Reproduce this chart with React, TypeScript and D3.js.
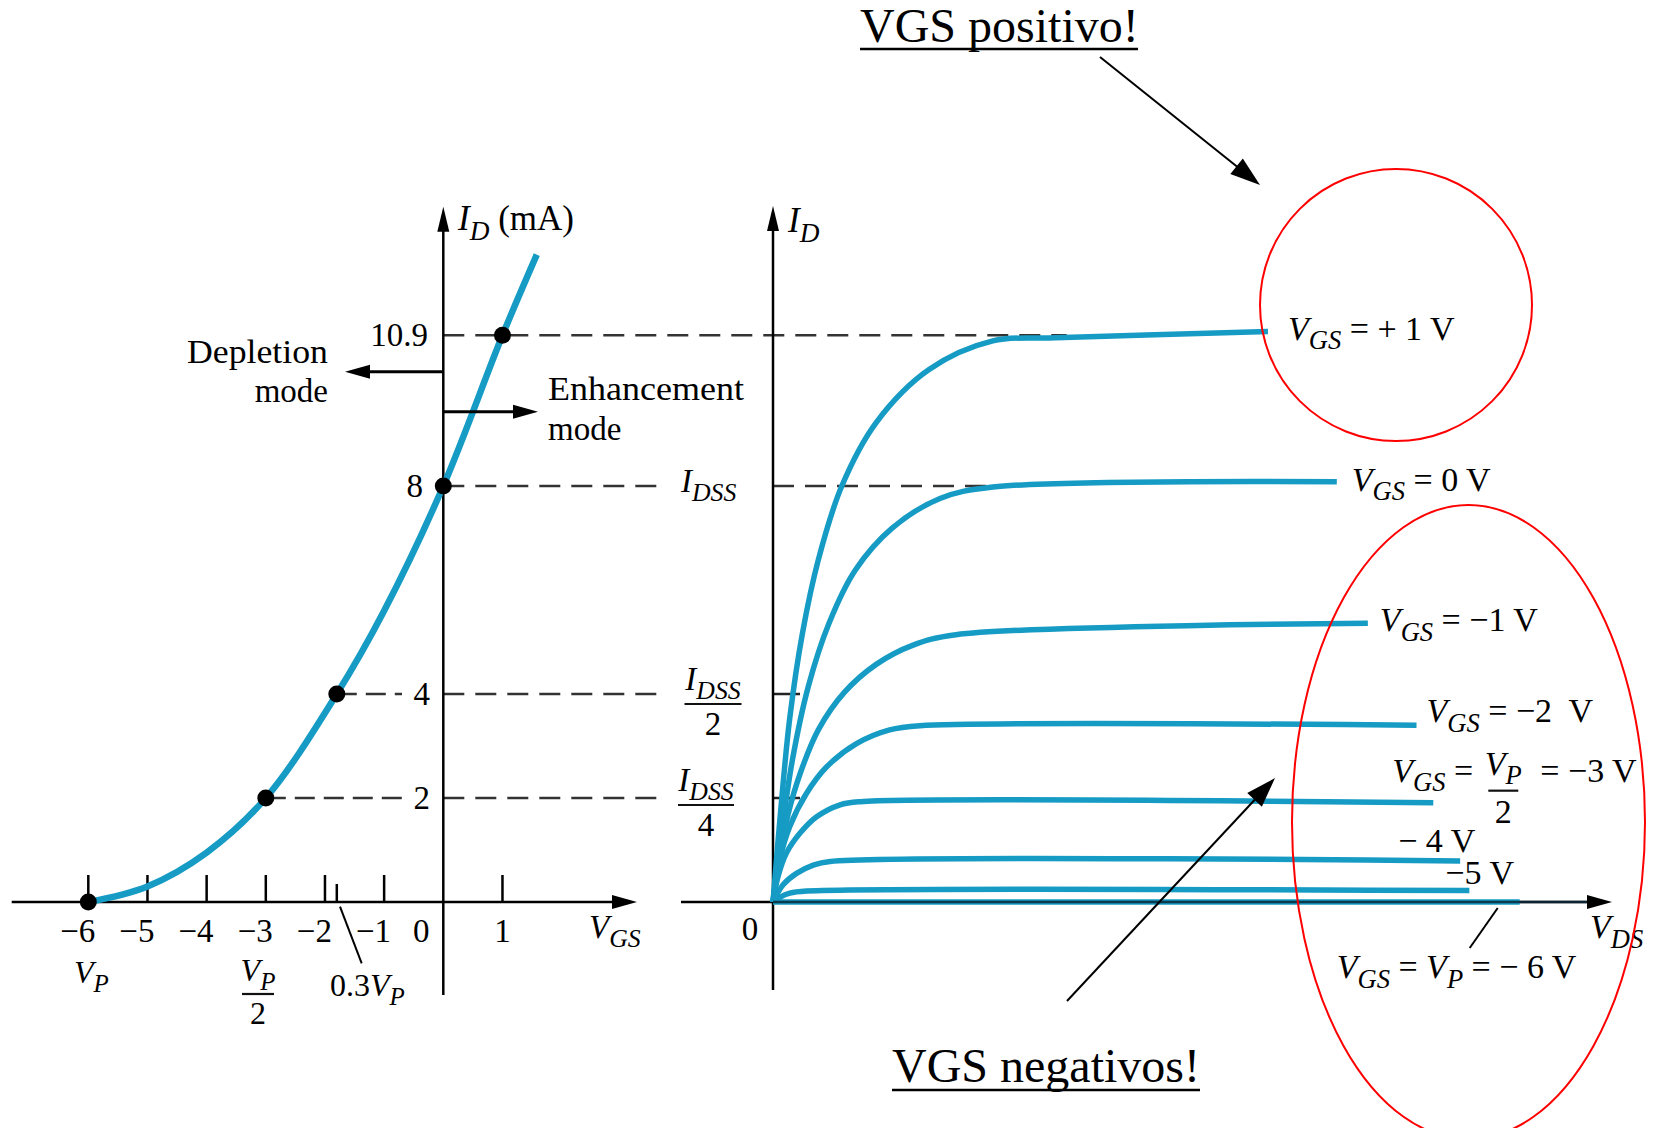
import React from 'react';
import * as d3 from 'd3';

const W = 1656;
const H = 1128;
const BLUE = '#169bc4';
const FONT = '"Liberation Serif", "Times New Roman", serif';

// transfer curve (left)
const transferVgs = [-6, -5, -4, -3, -1.8, -1, 0, 1, 1.58];
const transferId = [0, 0.3, 0.95, 2, 4, 5.6, 8, 10.9, 12.45];
const markedVgs = [-6, -3, -1.8, 0, 1];
const markedId = [0, 2, 4, 8, 10.9];
const vgsTicks = [-6, -5, -4, -3, -2, -1, 0, 1];
const vgsTickLabels = ['−6', '−5', '−4', '−3', '−2', '−1', '0', '1'];
const idLevels = [10.9, 8, 4, 2];
const idLevelLabels = ['10.9', '8', '4', '2'];

// drain curves (right), one pair of arrays per VGS
const vdsP1 = [0, 0.1, 0.2, 0.35, 0.54, 0.82, 1.23, 1.86, 2.62, 3.37, 5.9];
const idP1 = [0, 1.91, 3.54, 5.16, 6.58, 8.0, 9.22, 10.24, 10.79, 10.85, 10.97];
const vds0 = [0, 0.1, 0.23, 0.42, 0.67, 0.98, 1.42, 1.99, 2.62, 6.72];
const id0 = [0, 1.3, 2.72, 4.14, 5.37, 6.38, 7.19, 7.76, 7.98, 8.08];
const vdsM1 = [0, 0.08, 0.18, 0.33, 0.54, 0.85, 1.23, 1.67, 2.18, 7.09];
const idM1 = [0, 0.88, 1.69, 2.5, 3.31, 4.03, 4.57, 4.94, 5.14, 5.36];
const vdsM2 = [0, 0.08, 0.2, 0.4, 0.64, 1.0, 1.39, 1.75, 7.67];
const idM2 = [0, 0.81, 1.45, 2.09, 2.6, 3.05, 3.31, 3.39, 3.4];
const vdsM3 = [0, 0.06, 0.16, 0.32, 0.52, 0.8, 1.04, 7.87];
const idM3 = [0, 0.49, 0.94, 1.32, 1.64, 1.87, 1.93, 1.91];
const vdsM4 = [0, 0.12, 0.28, 0.48, 0.68, 8.19];
const idM4 = [0, 0.33, 0.55, 0.71, 0.78, 0.79];
const vdsM5 = [0, 0.08, 0.2, 0.4, 8.3];
const idM5 = [0, 0.09, 0.17, 0.21, 0.22];
const vdsM6 = [0, 8.9];
const idM6 = [0, 0];

const drainCurves = [
  [vdsP1, idP1], [vds0, id0], [vdsM1, idM1], [vdsM2, idM2],
  [vdsM3, idM3], [vdsM4, idM4], [vdsM5, idM5], [vdsM6, idM6],
];

type Seg = { t: string; i?: boolean; sub?: boolean };

function Label({ x, y, segs, size = 32, anchor = 'start' }: { x: number; y: number; segs: Seg[]; size?: number; anchor?: string }) {
  const shift = size * 0.28;
  let inSub = false;
  return (
    <text x={x} y={y} fontSize={size} fontFamily={FONT} textAnchor={anchor} style={{ whiteSpace: 'pre' }}>
      {segs.map((s, k) => {
        let dy = 0;
        if (s.sub && !inSub) { dy = shift; inSub = true; }
        else if (!s.sub && inSub) { dy = -shift; inSub = false; }
        return (
          <tspan key={k} dy={dy || undefined} fontStyle={s.i ? 'italic' : undefined} fontSize={s.sub ? size * 0.78 : undefined}>
            {s.t}
          </tspan>
        );
      })}
    </text>
  );
}

function Frac({ cx, y, num, den, w, size = 32, up = 14 }: { cx: number; y: number; num: Seg[]; den: string; w: number; size?: number; up?: number }) {
  return (
    <g>
      <Label x={cx} y={y - up} segs={num} size={size} anchor="middle" />
      <line x1={cx - w / 2} x2={cx + w / 2} y1={y} y2={y} stroke="#111" strokeWidth={2.2} />
      <text x={cx} y={y + size * 0.95} fontSize={size} fontFamily={FONT} textAnchor="middle">{den}</text>
    </g>
  );
}

function arrowHead(x1: number, y1: number, x2: number, y2: number, len: number, half: number) {
  const a = Math.atan2(y2 - y1, x2 - x1);
  const bx = x2 - len * Math.cos(a);
  const by = y2 - len * Math.sin(a);
  const px = -Math.sin(a) * half;
  const py = Math.cos(a) * half;
  return `M${x2},${y2}L${bx + px},${by + py}L${bx - px},${by - py}Z`;
}

function Arrow({ x1, y1, x2, y2, w = 2.5, len = 25, half = 6.5 }: any) {
  const a = Math.atan2(y2 - y1, x2 - x1);
  return (
    <g>
      <line x1={x1} y1={y1} x2={x2 - (len - 2) * Math.cos(a)} y2={y2 - (len - 2) * Math.sin(a)} stroke="#000" strokeWidth={w} />
      <path d={arrowHead(x1, y1, x2, y2, len, half)} fill="#000" />
    </g>
  );
}

const VGS: Seg[] = [{ t: 'V', i: true }, { t: 'GS', i: true, sub: true }];
const VP: Seg[] = [{ t: 'V', i: true }, { t: 'P', i: true, sub: true }];
const IDSS: Seg[] = [{ t: 'I', i: true }, { t: 'DSS', i: true, sub: true }];

export default function App() {
  const xL = d3.scaleLinear().domain([-6, 0]).range([88.3, 443.3]);
  const y = d3.scaleLinear().domain([0, 8]).range([902, 486]);
  const xR = d3.scaleLinear().domain([0, 10]).range([773, 1612]);
  const y0 = y(0);

  const transferPts = transferVgs.map((v, k) => [v, transferId[k]] as [number, number]);
  const transferPath = d3.line<[number, number]>()
    .x(d => xL(d[0])).y(d => y(d[1])).curve(d3.curveCatmullRom.alpha(0.5))(transferPts) || '';

  const drainLine = d3.line<[number, number]>()
    .x(d => xR(d[0])).y(d => y(d[1])).curve(d3.curveCatmullRom.alpha(0.5));

  const ends = drainCurves.map(([vx, iy]) => [xR(vx[vx.length - 1]), y(iy[iy.length - 1])]);

  const dash = '21,11';
  const dashStroke = '#333';

  return (
    <svg width={W} height={H} style={{ position: 'absolute', left: 0, top: 0, background: '#fff' }}>
      {/* dashed guide lines */}
      <line x1={xL(0)} x2={xR(3.5)} y1={y(10.9)} y2={y(10.9)} stroke={dashStroke} strokeWidth={2.5} strokeDasharray={dash} />
      <line x1={xL(0)} x2={662} y1={y(8)} y2={y(8)} stroke={dashStroke} strokeWidth={2.5} strokeDasharray={dash} />
      <line x1={xR(0)} x2={xR(2.7)} y1={y(8)} y2={y(8)} stroke={dashStroke} strokeWidth={2.5} strokeDasharray={dash} />
      {[4, 2].map((v, k) => (
        <g key={v}>
          <line x1={xL(markedVgs[2 - k])} x2={402} y1={y(v)} y2={y(v)} stroke={dashStroke} strokeWidth={2.5} strokeDasharray="20,9" />
          <line x1={xL(0)} x2={662} y1={y(v)} y2={y(v)} stroke={dashStroke} strokeWidth={2.5} strokeDasharray={dash} />
          <line x1={xR(0)} x2={xR(0) + 27} y1={y(v)} y2={y(v)} stroke="#222" strokeWidth={2.5} />
        </g>
      ))}

      {/* left: transfer characteristic */}
      <line x1={11.7} x2={620} y1={y0} y2={y0} stroke="#000" strokeWidth={2.5} />
      <path d={arrowHead(11.7, y0, 637, y0, 25, 7)} fill="#000" />
      <line x1={xL(0)} x2={xL(0)} y1={995} y2={225} stroke="#000" strokeWidth={2.5} />
      <path d={arrowHead(xL(0), 995, xL(0), 206.7, 25, 6)} fill="#000" />

      {vgsTicks.filter(v => v !== 0).map(v => (
        <line key={v} x1={xL(v)} x2={xL(v)} y1={y0} y2={y0 - 27} stroke="#000" strokeWidth={2.5} />
      ))}
      <line x1={xL(-1.8)} x2={xL(-1.8)} y1={y0} y2={y0 - 18} stroke="#000" strokeWidth={2.5} />

      {vgsTicks.map((v, k) => (
        <text key={v} x={v < 0 ? xL(v) + 7 : v === 0 ? xL(v) - 22 : xL(v)} y={942}
          fontSize={33} fontFamily={FONT} textAnchor={v < 0 ? 'end' : 'middle'}>{vgsTickLabels[k]}</text>
      ))}

      {idLevels.map((v, k) => (
        <text key={v} x={v >= 8 ? (v > 10 ? 428 : 423) : 430} y={y(v) + 11} fontSize={33} fontFamily={FONT} textAnchor="end">
          {idLevelLabels[k]}
        </text>
      ))}

      <path d={transferPath} fill="none" stroke={BLUE} strokeWidth={6.5} strokeLinecap="butt" />
      {markedVgs.map((v, k) => (
        <circle key={v} cx={xL(v)} cy={y(markedId[k])} r={8.5} fill="#000" />
      ))}

      <Label x={458} y={230} segs={[{ t: 'I', i: true }, { t: 'D', i: true, sub: true }, { t: ' (mA)' }]} size={35} />
      <Label x={589} y={938} segs={VGS} size={33} />
      <Label x={74} y={983} segs={VP} size={32} />
      <Frac cx={258} y={994} num={VP} den="2" w={32} size={32} up={13} />
      <Label x={330} y={996} segs={[{ t: '0.3' }, ...VP]} size={32} />
      <line x1={340} y1={906.7} x2={361.7} y2={963.3} stroke="#000" strokeWidth={2} />

      <text x={328} y={363} fontSize={33} fontFamily={FONT} textAnchor="end" textLength={141} lengthAdjust="spacingAndGlyphs">Depletion</text>
      <text x={328} y={402} fontSize={33} fontFamily={FONT} textAnchor="end">mode</text>
      <Arrow x1={xL(0)} y1={371.7} x2={345} y2={371.7} w={3} len={25} half={7} />
      <Arrow x1={xL(0)} y1={411.7} x2={538} y2={411.7} w={3} len={25} half={7} />
      <text x={548} y={400} fontSize={33} fontFamily={FONT} textLength={196} lengthAdjust="spacingAndGlyphs">Enhancement</text>
      <text x={548} y={440} fontSize={33} fontFamily={FONT}>mode</text>

      <Label x={681} y={492} segs={IDSS} size={33} />
      <Frac cx={713} y={704} num={IDSS} den="2" w={57} size={33} />
      <Frac cx={706} y={805} num={IDSS} den="4" w={56} size={33} />

      {/* right: drain characteristics */}
      <line x1={681} x2={1595} y1={y0} y2={y0} stroke="#000" strokeWidth={2.5} />
      <line x1={xR(0)} x2={xR(0)} y1={990} y2={225} stroke="#000" strokeWidth={2.5} />
      <path d={arrowHead(xR(0), 990, xR(0), 206, 25, 6)} fill="#000" />

      {drainCurves.map(([vx, iy], k) => (
        <path key={k} d={drainLine(vx.map((v, j) => [v, iy[j]] as [number, number])) || ''}
          fill="none" stroke={BLUE} strokeWidth={5.5} />
      ))}
      <line x1={xR(0)} x2={1595} y1={y0} y2={y0} stroke="#0c2b3a" strokeWidth={2.5} opacity={0.85} />
      <path d={arrowHead(681, y0, 1612, y0, 25, 7)} fill="#000" />

      <Label x={788} y={232} segs={[{ t: 'I', i: true }, { t: 'D', i: true, sub: true }]} size={35} />
      <text x={750} y={940} fontSize={33} fontFamily={FONT} textAnchor="middle">0</text>
      <Label x={1590} y={938} segs={[{ t: 'V', i: true }, { t: 'DS', i: true, sub: true }]} size={34} />

      <Label x={ends[0][0] + 20} y={ends[0][1] + 8} segs={[...VGS, { t: ' = + 1 V' }]} size={34} />
      <Label x={ends[1][0] + 15} y={ends[1][1] + 9} segs={[...VGS, { t: ' = 0 V' }]} size={34} />
      <Label x={ends[2][0] + 12} y={ends[2][1] + 8} segs={[...VGS, { t: ' = −1 V' }]} size={34} />
      <Label x={ends[3][0] + 10} y={ends[3][1] - 3} segs={[...VGS, { t: ' = −2  V' }]} size={34} />
      <Label x={ends[4][0] - 41} y={ends[4][1] - 21} segs={[...VGS, { t: ' =' }]} size={34} />
      <Frac cx={ends[4][0] + 70} y={ends[4][1] - 12} num={VP} den="2" w={30} size={34} up={16} />
      <text x={ends[4][0] + 107} y={ends[4][1] - 21} fontSize={34} fontFamily={FONT} style={{ whiteSpace: 'pre' }}>= −3 V</text>
      <text x={ends[5][0] - 62} y={ends[5][1] - 9} fontSize={34} fontFamily={FONT} style={{ whiteSpace: 'pre' }}>− 4 V</text>
      <text x={ends[6][0] - 24} y={ends[6][1] - 7} fontSize={34} fontFamily={FONT}>−5 V</text>
      <line x1={ends[7][0] - 22} y1={ends[7][1] + 6} x2={ends[7][0] - 50} y2={ends[7][1] + 46} stroke="#000" strokeWidth={2} />
      <Label x={ends[7][0] - 183} y={ends[7][1] + 76} segs={[...VGS, { t: ' = ' }, ...VP, { t: ' = − 6 V' }]} size={34} />

      {/* annotations */}
      <ellipse cx={1396} cy={305} rx={136} ry={136} fill="none" stroke="#ff0000" strokeWidth={2} />
      <ellipse cx={1468.5} cy={822} rx={176.5} ry={317} fill="none" stroke="#ff0000" strokeWidth={2} />

      <text x={860} y={41.7} fontSize={48} fontFamily={FONT}>VGS positivo!</text>
      <line x1={860} x2={1138} y1={49} y2={49} stroke="#000" strokeWidth={2.5} />
      <Arrow x1={1100} y1={57} x2={1260} y2={185} w={2} len={30} half={10} />

      <text x={892} y={1082} fontSize={48} fontFamily={FONT}>VGS negativos!</text>
      <line x1={892} x2={1200} y1={1090} y2={1090} stroke="#000" strokeWidth={2.5} />
      <Arrow x1={1067} y1={1001} x2={1275} y2={778} w={2} len={30} half={10} />
    </svg>
  );
}
